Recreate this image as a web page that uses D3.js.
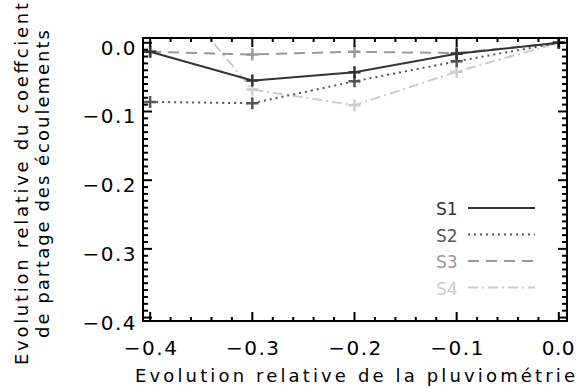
<!DOCTYPE html>
<html>
<head>
<meta charset="utf-8">
<script src="https://cdn.jsdelivr.net/npm/d3@7"></script>
<style>
  body { margin: 0; background: #fff; }
  text { font-family: "DejaVu Sans", sans-serif; }
</style>
</head>
<body>
<svg width="576" height="388"></svg>
<script>
// rainfall change (x) and relative change of the runoff coefficient per scenario
const xValues = [-0.4, -0.3, -0.2, -0.1, 0.0];
const s1 = [-0.013, -0.055, -0.043, -0.016, 0.0];
const s2 = [-0.086, -0.088, -0.056, -0.027, 0.0];
const s3 = [-0.013, -0.017, -0.013, -0.015, 0.0];
const s4 = [0.11, -0.068, -0.091, -0.042, 0.0];
const seriesNames = ["S1", "S2", "S3", "S4"];
const xTicks = [-0.4, -0.3, -0.2, -0.1, 0.0];
const yTicks = [0.0, -0.1, -0.2, -0.3, -0.4];

const styles = [
  { color: "#333333", dash: null, width: 2 },
  { color: "#555555", dash: "2,4", width: 2 },
  { color: "#999999", dash: "11,7", width: 2 },
  { color: "#cccccc", dash: "10,4,2,4", width: 2 }
];

const plotLeft = 143, plotRight = 567, plotTop = 38, plotBottom = 321;

const svg = d3.select("svg");

const x = d3.scaleLinear().domain([-0.407, 0.008]).range([plotLeft, plotRight]);
const y = d3.scaleLinear().domain([-0.405, 0.007]).range([plotBottom, plotTop]);

const series = [s1, s2, s3, s4].map((vals, i) => ({
  name: seriesNames[i],
  style: styles[i],
  points: vals.map((v, j) => ({ x: xValues[j], y: v }))
}));

svg.append("clipPath").attr("id", "plot")
  .append("rect")
  .attr("x", plotLeft).attr("y", plotTop)
  .attr("width", plotRight - plotLeft).attr("height", plotBottom - plotTop);

const line = d3.line().x(d => x(d.x)).y(d => y(d.y));

const plot = svg.append("g").attr("clip-path", "url(#plot)");

// draw lighter series first so darker ones sit on top
series.slice().reverse().forEach(s => {
  plot.append("path")
    .datum(s.points)
    .attr("fill", "none")
    .attr("stroke", s.style.color)
    .attr("stroke-width", s.style.width)
    .attr("stroke-dasharray", s.style.dash)
    .attr("d", line);

  plot.selectAll(null)
    .data(s.points)
    .join("path")
    .attr("d", d => {
      const cx = x(d.x), cy = y(d.y), r = 6;
      return `M${cx - r},${cy}H${cx + r}M${cx},${cy - r}V${cy + r}`;
    })
    .attr("stroke", s.style.color)
    .attr("stroke-width", 2.5);
});

// frame with inward ticks on all four sides
const axes = svg.append("g").attr("stroke", "#000");
axes.append("rect")
  .attr("x", plotLeft).attr("y", plotTop)
  .attr("width", plotRight - plotLeft).attr("height", plotBottom - plotTop)
  .attr("fill", "none").attr("stroke-width", 2);

const xMinor = d3.range(-40, 1, 2).map(v => v / 100);
const yMinor = d3.range(-40, 1, 1).map(v => v / 100);

xMinor.forEach(v => {
  const major = xTicks.some(t => Math.abs(t - v) < 1e-9);
  const len = major ? 9 : 4;
  axes.append("line").attr("x1", x(v)).attr("x2", x(v))
    .attr("y1", plotBottom).attr("y2", plotBottom - len).attr("stroke-width", 2);
  axes.append("line").attr("x1", x(v)).attr("x2", x(v))
    .attr("y1", plotTop).attr("y2", plotTop + len).attr("stroke-width", 2);
});

yMinor.forEach(v => {
  const major = yTicks.some(t => Math.abs(t - v) < 1e-9);
  const len = major ? 9 : 5;
  axes.append("line").attr("y1", y(v)).attr("y2", y(v))
    .attr("x1", plotLeft).attr("x2", plotLeft + len).attr("stroke-width", 2);
  axes.append("line").attr("y1", y(v)).attr("y2", y(v))
    .attr("x1", plotRight).attr("x2", plotRight - len).attr("stroke-width", 2);
});

const fmt = v => (v < 0 ? "\u22120" : "0") + d3.format(".1f")(Math.abs(v)).slice(1);

// the last label sits against the page edge, as in the original figure
svg.append("g").selectAll("text")
  .data(xTicks)
  .join("text")
  .attr("x", d => (d === 0 ? 575 : x(d) + 1))
  .attr("y", 355)
  .attr("text-anchor", d => (d === 0 ? "end" : "middle"))
  .attr("font-size", 20)
  .attr("letter-spacing", d => (d === 0 ? 0.5 : 1.5))
  .text(fmt);

svg.append("g").selectAll("text")
  .data(yTicks)
  .join("text")
  .attr("x", 137)
  .attr("y", d => y(d) + 12)
  .attr("text-anchor", "end")
  .attr("font-size", 20)
  .attr("letter-spacing", 1.5)
  .text(fmt);

svg.append("text")
  .attr("x", 355).attr("y", 382)
  .attr("text-anchor", "middle")
  .attr("font-size", 18)
  .attr("textLength", 440)
  .attr("lengthAdjust", "spacing")
  .text("Evolution relative de la pluviométrie");

const yTitle = svg.append("g").attr("transform", "translate(0,184) rotate(-90)");
yTitle.append("text")
  .attr("x", 0).attr("y", 28)
  .attr("text-anchor", "middle")
  .attr("font-size", 18)
  .attr("textLength", 362)
  .attr("lengthAdjust", "spacing")
  .text("Evolution relative du coeffcient");
yTitle.append("text")
  .attr("x", 0).attr("y", 49)
  .attr("text-anchor", "middle")
  .attr("font-size", 18)
  .attr("textLength", 308)
  .attr("lengthAdjust", "spacing")
  .text("de partage des écoulements");

// legend
const legend = svg.append("g").selectAll("g")
  .data(series)
  .join("g")
  .attr("transform", (d, i) => `translate(436,${208 + i * 26.5})`);

legend.append("text")
  .attr("x", 0).attr("y", 7)
  .attr("font-size", 17)
  .attr("fill", d => d.style.color)
  .text(d => d.name);

legend.append("line")
  .attr("x1", 32).attr("x2", 99)
  .attr("stroke", d => d.style.color)
  .attr("stroke-width", 2)
  .attr("stroke-dasharray", d => d.style.dash);
</script>
</body>
</html>
